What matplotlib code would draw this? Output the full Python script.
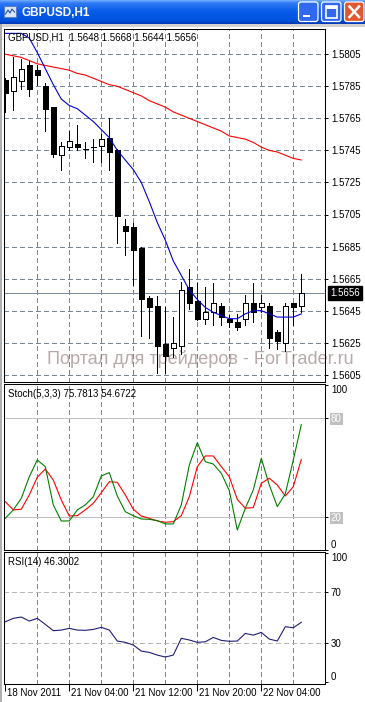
import numpy as np
import matplotlib
matplotlib.use("Agg")
import matplotlib.pyplot as plt
from matplotlib import transforms
from matplotlib.patches import Rectangle, FancyBboxPatch
from matplotlib.colors import LinearSegmentedColormap

plt.rcParams["font.family"] = ["Liberation Sans", "DejaVu Sans"]
plt.rcParams["lines.scale_dashes"] = False

# GBPUSD H1 candles, 18 Nov 2011 20:00 .. 22 Nov 2011 09:00
opens = [1.5789, 1.5782, 1.5788, 1.5798, 1.5795, 1.5785, 1.5772, 1.5742, 1.5747, 1.5749,
         1.5746, 1.5747, 1.5748, 1.5753, 1.5745, 1.5698, 1.5697, 1.5684, 1.5653, 1.5648,
         1.5624, 1.5622, 1.5623, 1.5660, 1.5651, 1.5640, 1.5644, 1.5648, 1.5640, 1.5638,
         1.5640, 1.5650, 1.5647, 1.5648, 1.5632, 1.5625, 1.5650, 1.5648]
highs = [1.5790, 1.5803, 1.5802, 1.5801, 1.5798, 1.5787, 1.5772, 1.5750, 1.5757, 1.5761,
         1.5750, 1.5752, 1.5755, 1.5765, 1.5746, 1.5702, 1.5700, 1.5685, 1.5654, 1.5654,
         1.5647, 1.5641, 1.5663, 1.5671, 1.5662, 1.5660, 1.5662, 1.5650, 1.5642, 1.5643,
         1.5655, 1.5662, 1.5655, 1.5650, 1.5633, 1.5650, 1.5650, 1.5668]
lows = [1.5769, 1.5770, 1.5783, 1.5779, 1.5786, 1.5757, 1.5741, 1.5733, 1.5745, 1.5745,
        1.5740, 1.5738, 1.5738, 1.5733, 1.5687, 1.5680, 1.5661, 1.5629, 1.5628, 1.5606,
        1.5606, 1.5616, 1.5618, 1.5646, 1.5639, 1.5637, 1.5636, 1.5636, 1.5635, 1.5633,
        1.5636, 1.5638, 1.5644, 1.5622, 1.5621, 1.5620, 1.5636, 1.5644]
closes = [1.5781, 1.5791, 1.5796, 1.5783, 1.5792, 1.5771, 1.5743, 1.5748, 1.5751, 1.5747,
          1.5746, 1.5747, 1.5752, 1.5744, 1.5704, 1.5695, 1.5683, 1.5652, 1.5647, 1.5623,
          1.5617, 1.5625, 1.5658, 1.5650, 1.5640, 1.5644, 1.5650, 1.5641, 1.5638, 1.5635,
          1.5650, 1.5644, 1.5650, 1.5628, 1.5626, 1.5648, 1.5647, 1.5656]

ma_fast = [1.5818, 1.5818, 1.5818, 1.5815, 1.5806, 1.5796, 1.5786, 1.5777, 1.5773, 1.5771,
           1.5767, 1.5763, 1.5758, 1.5753, 1.5745, 1.5739, 1.5733, 1.5725, 1.5713, 1.5700,
           1.5689, 1.5676, 1.5667, 1.5658, 1.5652, 1.5647, 1.5644, 1.5642, 1.5640, 1.5640,
           1.5643, 1.5645, 1.5645, 1.5643, 1.5641, 1.5641, 1.5641, 1.5643]
ma_slow = [1.5805, 1.5804, 1.5803, 1.5801, 1.5799, 1.5798, 1.5797, 1.5796, 1.5795, 1.5793,
           1.5792, 1.5790, 1.5788, 1.5786, 1.5785, 1.5783, 1.5781, 1.5779, 1.5776, 1.5774,
           1.5772, 1.5769, 1.5767, 1.5765, 1.5763, 1.5761, 1.5759, 1.5757, 1.5754, 1.5753,
           1.5752, 1.5750, 1.5747, 1.5745, 1.5744, 1.5742, 1.5740, 1.5739]

stoch_main = [19.0, 24.1, 31.1, 44.2, 54.4, 50.3, 27.1, 17.4, 17.4, 24.1,
              27.1, 32.1, 44.7, 46.7, 32.5, 23.0, 20.6, 18.6, 18.4, 17.6,
              15.6, 15.6, 27.1, 51.3, 64.8, 53.3, 51.9, 46.3, 35.8, 11.9,
              25.1, 36.2, 55.4, 39.2, 26.1, 33.8, 54.4, 75.78]
stoch_signal = [29.1, 24.1, 24.5, 33.2, 43.9, 48.9, 42.2, 30.1, 20.4, 20.6,
                24.1, 28.1, 34.5, 41.2, 40.8, 33.2, 24.5, 20.4, 19.0, 17.4,
                16.6, 17.0, 20.6, 32.1, 50.3, 56.8, 56.8, 50.3, 44.2, 30.5,
                25.1, 25.5, 40.2, 43.3, 39.2, 32.5, 38.2, 54.67]
rsi = [46.7, 49.4, 50.4, 47.3, 49.4, 44.7, 39.8, 40.3, 41.6, 40.3,
       40.1, 40.8, 42.4, 40.3, 31.8, 30.8, 28.7, 24.0, 23.0, 20.9,
       19.4, 20.9, 33.9, 32.6, 30.8, 31.2, 34.6, 32.3, 31.6, 31.8,
       37.7, 36.4, 38.5, 33.3, 31.8, 42.9, 42.1, 46.3]

price_ticks = [1.5605, 1.5625, 1.5645, 1.5665, 1.5685, 1.5705, 1.5725, 1.5745, 1.5765, 1.5785, 1.5805]
last_price = 1.5656
stoch_levels = [20, 80]
rsi_levels = [30, 70]
time_ticks = [0, 8, 16, 24, 32]
time_labels = ["18 Nov 2011", "21 Nov 04:00", "21 Nov 12:00", "21 Nov 20:00", "22 Nov 04:00"]

W, H = 365, 702
fig = plt.figure(figsize=(W / 100, H / 100), dpi=100)
fig.patch.set_facecolor("white")


def px_axes(x0, y0, x1, y1):
    return fig.add_axes([x0 / W, 1 - y1 / H, (x1 - x0) / W, (y1 - y0) / H])


GRID = "#778899"
DASH = (0, (3.0, 2.2))
LW = 0.6      # crisp 1 px for straight lines
LW_IND = 0.8  # indicator curves, antialiased
x = np.arange(len(closes))
xlim = ((4 - 5.3) / 8, (325 - 5.3) / 8)

# window chrome
bg = fig.add_axes([0, 0, 1, 1], zorder=-5)
bg.set_xlim(0, W)
bg.set_ylim(H, 0)
bg.axis("off")
title_cmap = LinearSegmentedColormap.from_list(
    "xp", [(0, "#6AA6FF"), (0.12, "#2E79F3"), (0.45, "#0A5DEA"), (0.85, "#0053DF"), (1, "#003AB8")])
bg.imshow(np.linspace(0, 1, 24)[:, None], cmap=title_cmap, extent=(0, W, 24, 0), aspect="auto")
bg.add_patch(Rectangle((0, 24), W, 3, fc="#D6D3CE", ec="none"))
bg.add_patch(Rectangle((0, 24), 2, H - 24, fc="#B0B0B0", ec="none"))
bg.add_patch(Rectangle((4, 6), 12, 11, fc="#DCE6F8", ec="#5B7FC4", lw=0.8))
bg.plot([5.5, 8, 10, 12, 14.5], [14, 10, 13, 9, 12], color="#2050B0", lw=0.8)
bg.text(22, 12.5, "GBPUSD,H1", color="white", fontsize=8.5, fontweight="bold", va="center")
for bx, fc in [(298.5, "#3169EE"), (321.5, "#3169EE"), (344.5, "#E1582E")]:
    bg.add_patch(FancyBboxPatch((bx, 2), 19.5, 19.5, boxstyle="round,pad=0,rounding_size=2.5",
                                fc=fc, ec="white", lw=0.9))
bg.add_patch(Rectangle((303, 14.5), 7, 2.5, fc="white", ec="none"))
bg.add_patch(Rectangle((325.5, 6), 11.5, 11.5, fc="none", ec="white", lw=1.2))
bg.add_patch(Rectangle((325.5, 6), 11.5, 2.5, fc="white", ec="none"))
bg.plot([349.5, 359], [6.5, 17], color="white", lw=1.8)
bg.plot([349.5, 359], [17, 6.5], color="white", lw=1.8)


def style_panel(ax):
    ax.set_facecolor("none")
    ax.set_xlim(*xlim)
    for s in ax.spines.values():
        s.set_linewidth(0.75)
        s.set_color("black")
    for k in range(4, 37, 4):
        ax.axvline(k, color=GRID, lw=LW, ls=DASH, zorder=1, antialiased=False)
    ax.yaxis.tick_right()
    ax.tick_params(axis="y", length=2.3, width=0.7, pad=2, labelsize=7, colors="black")
    ax.tick_params(axis="x", bottom=False, labelbottom=False)


# main price panel
ax1 = px_axes(4, 29, 325, 382)
style_panel(ax1)
ax1.set_ylim(1.5805 - (382 - 54.2) / 16030, 1.5805 + (54.2 - 29) / 16030)
for p in price_ticks:
    ax1.axhline(p, color=GRID, lw=LW, ls=DASH, zorder=1, antialiased=False)
ax1.axhline(last_price, color=GRID, lw=LW, zorder=1.5, antialiased=False)
ax1.set_yticks(price_ticks)
ax1.set_yticklabels([f"{p:.4f}" for p in price_ticks])

ax1.text(0.134, 0.064, "Портал для трейдеров - ForTrader.ru", transform=ax1.transAxes,
         fontsize=13.1, color="#B9AAAA", ha="left", va="center", zorder=0.5, clip_on=False)

body_w = 0.6
ax1.vlines(x, lows, highs, color="black", lw=LW, zorder=2, antialiased=False)
for k in range(len(closes)):
    o, c = opens[k], closes[k]
    if c > o:
        ax1.bar(x[k], c - o, bottom=o, width=body_w, color="white", edgecolor="black",
                linewidth=LW, zorder=2.5, antialiased=False)
    elif c < o:
        ax1.bar(x[k], o - c, bottom=c, width=body_w, color="black", edgecolor="black",
                linewidth=LW, zorder=2.5, antialiased=False)
    else:
        ax1.hlines(c, x[k] - body_w / 2, x[k] + body_w / 2, color="black", lw=LW,
                   zorder=2.5, antialiased=False)

ax1.plot(x, ma_slow, color="#FF0000", lw=LW_IND, zorder=3)
ax1.plot(x, ma_fast, color="#0000D8", lw=LW_IND, zorder=3)

price_tr = transforms.blended_transform_factory(ax1.transAxes, ax1.transData)
ax1.text(1.0, last_price, f"{last_price:.4f}", color="white", fontsize=7, ha="left", va="center",
         transform=transforms.offset_copy(price_tr, fig=fig, x=5, y=0, units="dots"),
         bbox=dict(fc="black", ec="black", pad=1.4), clip_on=False, zorder=5)
ax1.text(0, 1, "GBPUSD,H1  1.5648 1.5668 1.5644 1.5656", fontsize=7, va="center", ha="left",
         transform=transforms.offset_copy(ax1.transAxes, fig=fig, x=4, y=-8.5, units="dots"), zorder=4)

# stochastic panel
ax2 = px_axes(4, 384, 325, 550)
style_panel(ax2)
ax2.set_ylim(-0.2, 100.4)
for lv in stoch_levels:
    ax2.axhline(lv, color="#C0C0C0", lw=LW, zorder=1, antialiased=False)
ax2.plot(x, stoch_signal, color="#FF0000", lw=LW_IND, zorder=3)
ax2.plot(x, stoch_main, color="#008000", lw=LW_IND, zorder=3)
ax2.set_yticks([0, 20, 80, 100])
ax2.set_yticklabels(["0", "20", "80", "100"])
lbl = ax2.get_yticklabels()
lbl[0].set_va("bottom")
lbl[3].set_va("top")
for t in (lbl[1], lbl[2]):
    t.set_color("white")
    t.set_bbox(dict(fc="#C0C0C0", ec="none", pad=0.6))
ax2.text(0, 1, "Stoch(5,3,3) 75.7813 54.6722", fontsize=7, va="center", ha="left",
         transform=transforms.offset_copy(ax2.transAxes, fig=fig, x=4, y=-10.3, units="dots"))

# RSI panel
ax3 = px_axes(4, 552, 325, 684)
style_panel(ax3)
ax3.set_ylim(-1.5, 100.8)
for lv in rsi_levels:
    ax3.axhline(lv, color="#B8B8B8", lw=LW, ls=DASH, zorder=1, antialiased=False)
ax3.plot(x, rsi, color="#1E1E78", lw=LW_IND, zorder=3)
ax3.set_yticks([0, 30, 70, 100])
ax3.set_yticklabels(["0", "30", "70", "100"])
lbl = ax3.get_yticklabels()
lbl[0].set_va("bottom")
lbl[3].set_va("top")
ax3.text(0, 1, "RSI(14) 46.3002", fontsize=7, va="center", ha="left",
         transform=transforms.offset_copy(ax3.transAxes, fig=fig, x=4, y=-9.7, units="dots"))

ax3.set_xticks(time_ticks)
ax3.tick_params(axis="x", bottom=True, labelbottom=False, length=5, width=0.7, direction="out")
time_tr = transforms.blended_transform_factory(ax3.transData, ax3.transAxes)
for k, s in zip(time_ticks, time_labels):
    ax3.text(k, 0, s, fontsize=7, ha="left", va="center", clip_on=False,
             transform=transforms.offset_copy(time_tr, fig=fig, x=2, y=-9, units="dots"))

fig.savefig("out.png", dpi=100)
